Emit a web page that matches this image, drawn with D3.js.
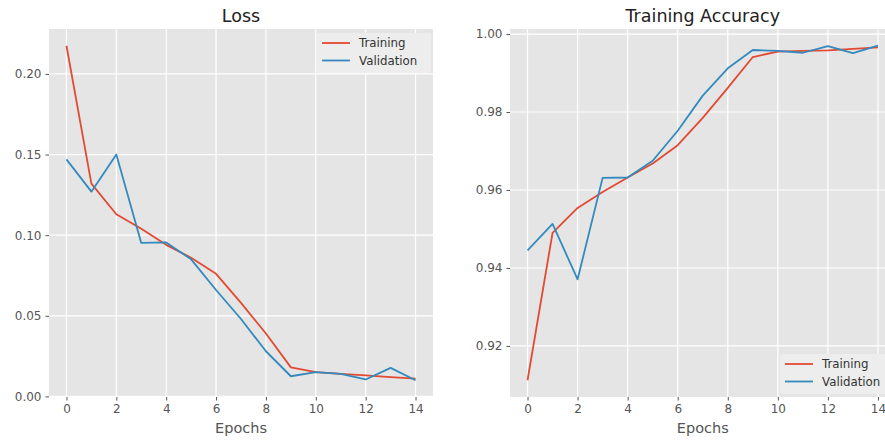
<!DOCTYPE html>
<html>
<head>
<meta charset="utf-8">
<script src="https://cdn.jsdelivr.net/npm/d3@7"></script>
<style>
  body { margin: 0; background: #fff; }
  text { font-family: "DejaVu Sans", sans-serif; }
</style>
</head>
<body>
<div class="canvas"></div>
<script>
// data
const epochs = [0, 1, 2, 3, 4, 5, 6, 7, 8, 9, 10, 11, 12, 13, 14];
const lossTraining   = [0.2175, 0.132, 0.113, 0.104, 0.094, 0.086, 0.076, 0.058, 0.039, 0.018, 0.015, 0.014, 0.013, 0.012, 0.011];
const lossValidation = [0.147, 0.127, 0.150, 0.0952, 0.0955, 0.085, 0.066, 0.048, 0.028, 0.0125, 0.015, 0.014, 0.0105, 0.0177, 0.010];
const accTraining    = [0.9112, 0.949, 0.9554, 0.9595, 0.9632, 0.9668, 0.9715, 0.9785, 0.9862, 0.9941, 0.9955, 0.9957, 0.9958, 0.9962, 0.9966];
const accValidation  = [0.9445, 0.9513, 0.9371, 0.9631, 0.9632, 0.9675, 0.9752, 0.9842, 0.9912, 0.9959, 0.9957, 0.9952, 0.9969, 0.9951, 0.9970];
const xTicks = [0, 2, 4, 6, 8, 10, 12, 14];
const lossTicks = [0.00, 0.05, 0.10, 0.15, 0.20];
const accTicks = [0.92, 0.94, 0.96, 0.98, 1.00];
const seriesNames = ['Training', 'Validation'];
const colors = ['#E24A33', '#348ABD'];

const svg = d3.select('.canvas')
  .append('svg')
    .attr('width', 885)
    .attr('height', 441);

function panel(opt) {
  const {left, right, top, bottom} = opt.box;
  const g = svg.append('g');

  const x = d3.scaleLinear().domain([-0.7, 14.7]).range([left, right]);

  const all = opt.series.flat();
  const lo = d3.min(all), hi = d3.max(all), pad = (hi - lo) * 0.05;
  const y = d3.scaleLinear().domain([lo - pad, hi + pad]).range([bottom, top]);

  g.append('rect')
    .attr('x', left).attr('y', top)
    .attr('width', right - left).attr('height', bottom - top)
    .attr('fill', '#E5E5E5');

  // grid
  g.selectAll('.vgrid').data(xTicks).enter().append('line')
    .attr('x1', d => x(d)).attr('x2', d => x(d))
    .attr('y1', top).attr('y2', bottom)
    .attr('stroke', '#fff').attr('stroke-width', 1.2);
  g.selectAll('.hgrid').data(opt.yTicks).enter().append('line')
    .attr('x1', left).attr('x2', right)
    .attr('y1', d => y(d)).attr('y2', d => y(d))
    .attr('stroke', '#fff').attr('stroke-width', 1.2);

  // axes
  const xAxis = g.append('g')
    .attr('transform', `translate(0,${bottom})`)
    .call(d3.axisBottom(x).tickValues(xTicks).tickSize(3.5).tickPadding(4));
  const yAxis = g.append('g')
    .attr('transform', `translate(${left},0)`)
    .call(d3.axisLeft(y).tickValues(opt.yTicks).tickFormat(d3.format('.2f')).tickSize(3.5).tickPadding(4));
  [xAxis, yAxis].forEach(a => {
    a.select('.domain').remove();
    a.selectAll('.tick line').attr('stroke', '#555');
    a.selectAll('.tick text')
      .attr('fill', '#555')
      .style('font-size', '12px')
      .style('font-family', '"DejaVu Sans", sans-serif');
  });

  // lines
  const line = d3.line().x((d, i) => x(epochs[i])).y(d => y(d));
  opt.series.forEach((s, i) => {
    g.append('path')
      .datum(s)
      .attr('d', line)
      .attr('fill', 'none')
      .attr('stroke', colors[i])
      .attr('stroke-width', 1.8)
      .attr('stroke-linejoin', 'round');
  });

  // title + label
  g.append('text')
    .attr('x', (left + right) / 2).attr('y', 22)
    .attr('text-anchor', 'middle')
    .style('font-size', '17.5px')
    .attr('fill', '#222')
    .text(opt.title);
  g.append('text')
    .attr('x', (left + right) / 2).attr('y', 433)
    .attr('text-anchor', 'middle')
    .style('font-size', '14.5px')
    .attr('fill', '#555')
    .text('Epochs');

  // legend
  const lg = g.append('g').attr('transform', `translate(${opt.legend[0]},${opt.legend[1]})`);
  lg.append('rect')
    .attr('width', opt.legend[2]).attr('height', 40)
    .attr('rx', 3)
    .attr('fill', '#EDEDED');
  seriesNames.forEach((name, i) => {
    lg.append('line')
      .attr('x1', 5).attr('x2', 33)
      .attr('y1', 10 + i * 17.5).attr('y2', 10 + i * 17.5)
      .attr('stroke', colors[i]).attr('stroke-width', 1.8);
    lg.append('text')
      .attr('x', 42).attr('y', 14 + i * 17.5)
      .style('font-size', '11.8px')
      .attr('fill', '#333')
      .text(name);
  });
}

panel({
  box: {left: 49, right: 433, top: 29, bottom: 397},
  series: [lossTraining, lossValidation],
  yTicks: lossTicks,
  title: 'Loss',
  legend: [317, 33, 114]
});

panel({
  box: {left: 510, right: 895.5, top: 29, bottom: 397},
  series: [accTraining, accValidation],
  yTicks: accTicks,
  title: 'Training Accuracy',
  legend: [780, 354, 114]
});
</script>
</body>
</html>
